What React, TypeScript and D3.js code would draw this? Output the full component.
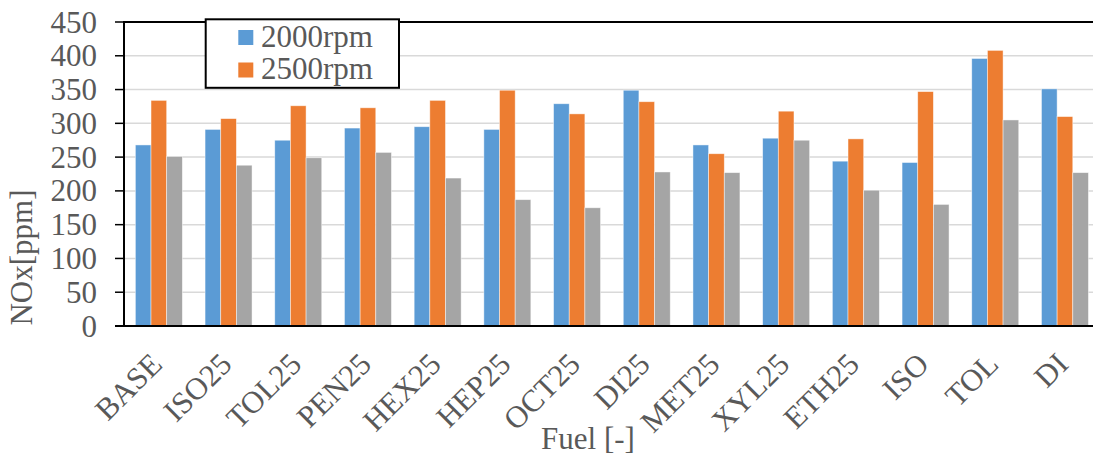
import React from "react";
import * as d3 from "d3";

const categories = ["BASE", "ISO25", "TOL25", "PEN25", "HEX25", "HEP25", "OCT25", "DI25", "MET25", "XYL25", "ETH25", "ISO", "TOL", "DI"];
const seriesNames = ["2000rpm", "2500rpm", "Series3"];
const rpm2000 = [268, 291, 275, 293, 295, 291, 329, 349, 268, 278, 244, 242, 396, 351];
const rpm2500 = [334, 307, 326, 323, 334, 349, 314, 332, 255, 318, 277, 347, 408, 310];
const series3 = [251, 238, 249, 257, 219, 187, 175, 228, 227, 275, 201, 180, 305, 227];
const yTicks = [0, 50, 100, 150, 200, 250, 300, 350, 400, 450];
const colors = ["#5B9BD5", "#ED7D31", "#A5A5A5"];

export default function App() {
  const W = 1093, H = 456;
  const left = 124, top = 22, bottom = 326;
  const step = 69.7;
  const right = left + step * categories.length;
  const font = "'Liberation Serif', 'Times New Roman', serif";
  const textColor = "#595959";

  const x0 = d3.scaleBand<string>().domain(categories).range([left, right]).paddingInner(0.326).paddingOuter(0.163);
  const x1 = d3.scaleBand<string>().domain(seriesNames).range([0, x0.bandwidth()]).padding(0);
  const y = d3.scaleLinear().domain([0, 450]).range([bottom, top]);
  const data = [rpm2000, rpm2500, series3];

  return (
    <svg width={W} height={H} style={{ position: "absolute", left: 0, top: 0, background: "#fff" }} fontFamily={font}>
      <rect x={0} y={0} width={W} height={H} fill="#fff" />
      {yTicks.filter((t) => t > 0).map((t) => (
        <line key={"g" + t} x1={left} x2={right} y1={y(t)} y2={y(t)} stroke="#d9d9d9" strokeWidth={1.5} />
      ))}
      {categories.map((c, i) => (
        <g key={c}>
          {data.map((s, j) => (
            <rect
              key={j}
              x={(x0(c) as number) + (x1(seriesNames[j]) as number)}
              y={y(s[i])}
              width={x1.bandwidth()}
              height={y(0) - y(s[i])}
              fill={colors[j]}
              stroke="#ffffff"
              strokeOpacity={0.6}
              strokeWidth={0.75}
            />
          ))}
        </g>
      ))}
      <line x1={left} x2={left} y1={top} y2={bottom} stroke="#000" strokeWidth={2} />
      <line x1={left - 9} x2={right} y1={bottom} y2={bottom} stroke="#000" strokeWidth={2} />
      <line x1={left - 1} x2={right} y1={top} y2={top} stroke="#000" strokeWidth={2} />
      <line x1={right} x2={right} y1={top} y2={bottom} stroke="#000" strokeWidth={2} />
      {yTicks.map((t) => (
        <g key={"t" + t}>
          <line x1={left - 9} x2={left} y1={y(t)} y2={y(t)} stroke="#000" strokeWidth={1.5} />
          <text x={97} y={y(t) + 10.5} textAnchor="end" fontSize={31} fill={textColor}>{t}</text>
        </g>
      ))}
      {categories.map((c) => {
        const cx = (x0(c) as number) + x0.bandwidth() / 2 + 5;
        return (
          <text key={"c" + c} transform={`translate(${cx},366) rotate(-45)`} textAnchor="end" fontSize={31} fill={textColor}>{c}</text>
        );
      })}
      <text transform="translate(31.5,257.5) rotate(-90)" textAnchor="middle" fontSize={31} fill={textColor}>NOx[ppm]</text>
      <text x={588} y={449} textAnchor="middle" fontSize={31} fill={textColor}>Fuel [-]</text>
      <rect x={205.7} y={19.3} width={193.3} height={68.5} fill="#fff" stroke="#000" strokeWidth={2} />
      {[0, 1].map((j) => (
        <g key={"l" + j}>
          <rect x={238.3} y={30 + j * 32.5} width={15} height={15} fill={colors[j]} />
          <text x={261} y={46.7 + j * 32.6} fontSize={31} fill={textColor}>{seriesNames[j]}</text>
        </g>
      ))}
    </svg>
  );
}
